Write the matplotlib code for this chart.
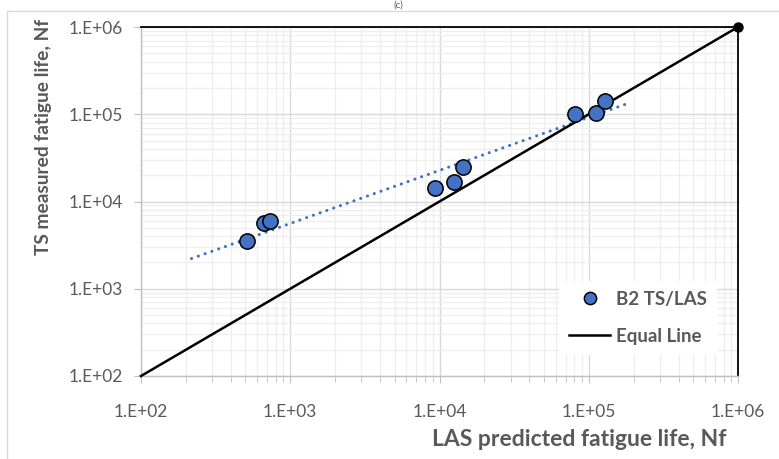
import numpy as np
import matplotlib
matplotlib.use("Agg")
import matplotlib.pyplot as plt
from matplotlib.patches import Rectangle
from matplotlib.ticker import LogLocator, NullFormatter, FixedLocator

plt.rcParams['font.family'] = ['Lato', 'DejaVu Sans']

# LAS predicted vs TS measured fatigue life (cycles)
las_predicted = [514, 669, 734, 9400, 12600, 14300, 80500, 111000, 128000]
ts_measured = [3520, 5670, 5970, 14300, 16700, 24900, 100700, 103300, 141900]

# extent of the power trendline and the equality line
trend_x_range = [218, 182000]
equal_line = [1e2, 1e6]

tick_values = [1e2, 1e3, 1e4, 1e5, 1e6]
tick_labels = ["1.E+02", "1.E+03", "1.E+04", "1.E+05", "1.E+06"]

series_label = "B2 TS/LAS"
equal_label = "Equal Line"
x_title = "LAS predicted fatigue life, Nf"
y_title = "TS measured fatigue life, Nf"

GRAY_TXT = "#595959"
BLUE = "#4472C4"

fig = plt.figure(figsize=(7.79, 4.59), dpi=100)
ax = fig.add_axes([141 / 779, 1 - 376 / 459, (738 - 141) / 779, (376 - 27) / 459])

ax.set_xscale('log')
ax.set_yscale('log')
ax.set_xlim(1e2, 1e6)
ax.set_ylim(1e2, 1e6)

# gridlines
ax.grid(which='major', color='#d9d9d9', linewidth=1.0, zorder=0)
ax.grid(which='minor', color='#eeeeee', linewidth=0.9, zorder=0)
ax.set_axisbelow(True)
ax.xaxis.set_minor_locator(LogLocator(base=10, subs=np.arange(2, 10), numticks=20))
ax.yaxis.set_minor_locator(LogLocator(base=10, subs=np.arange(2, 10), numticks=20))
ax.xaxis.set_minor_formatter(NullFormatter())
ax.yaxis.set_minor_formatter(NullFormatter())

ax.xaxis.set_major_locator(FixedLocator(tick_values))
ax.yaxis.set_major_locator(FixedLocator(tick_values))
ax.set_xticklabels(tick_labels)
ax.set_yticklabels(tick_labels)
ax.tick_params(axis='x', which='major', length=5, color='#bfbfbf', labelsize=12.5,
               labelcolor=GRAY_TXT, pad=15)
ax.tick_params(axis='x', which='minor', length=4, color='#bfbfbf')
ax.tick_params(axis='y', which='major', length=5, color='#bfbfbf', labelsize=12.5,
               labelcolor=GRAY_TXT, pad=8)
ax.tick_params(axis='y', which='minor', length=0)

for side in ('left', 'bottom'):
    ax.spines[side].set_color('#bfbfbf')
    ax.spines[side].set_linewidth(1.0)
for side in ('top', 'right'):
    ax.spines[side].set_color('black')
    ax.spines[side].set_linewidth(1.3)

# power-law trendline fitted in log space
lx = np.log10(las_predicted)
ly = np.log10(ts_measured)
slope, intercept = np.polyfit(lx, ly, 1)
tx = np.array(trend_x_range)
ty = 10 ** (intercept + slope * np.log10(tx))
ax.plot(tx, ty, linestyle=(0, (0.05, 2.3)), color=BLUE, linewidth=2.2,
        dash_capstyle='round', zorder=3)

# measured points
ax.plot(las_predicted, ts_measured, 'o', markersize=11, markerfacecolor=BLUE,
        markeredgecolor='black', markeredgewidth=1.1, linestyle='none',
        zorder=5, label=series_label)

# equality line
ax.plot(equal_line, equal_line, color='black', linewidth=1.8, zorder=4,
        label=equal_label, clip_on=False)
ax.plot([equal_line[1]], [equal_line[1]], 'o', color='black', markersize=6.5,
        zorder=6, clip_on=False)

leg = ax.legend(loc='lower right', bbox_to_anchor=(0.965, 0.06),
                frameon=True, fancybox=False, borderpad=0.55, labelspacing=1.05,
                handlelength=2.2, handletextpad=0.3, fontsize=13.5,
                markerscale=0.8, borderaxespad=0.0)
leg.get_frame().set_edgecolor('none')
leg.get_frame().set_facecolor('white')
leg.get_frame().set_alpha(1.0)
for t in leg.get_texts():
    t.set_color(GRAY_TXT)
    t.set_fontweight('bold')

fig.text(579 / 779, 1 - 440 / 459, x_title, ha='center', va='center',
         fontsize=16.5, fontweight='bold', color=GRAY_TXT)
fig.text(44 / 779, 1 - 137 / 459, y_title, ha='center', va='center',
         rotation=90, fontsize=13.8, fontweight='bold', color=GRAY_TXT)

# panel letter above the frame
fig.text(398 / 779, 1 - 1 / 459, "(c)", ha='center', va='top', fontsize=7,
         color=GRAY_TXT)

# outer chart frame
fig.patches.append(Rectangle((7 / 779, -0.05), 1.2, 1 - 11 / 459 + 0.05,
                             transform=fig.transFigure, fill=False,
                             edgecolor='#d9d9d9', linewidth=1.0))

fig.savefig("out.png", dpi=100)
